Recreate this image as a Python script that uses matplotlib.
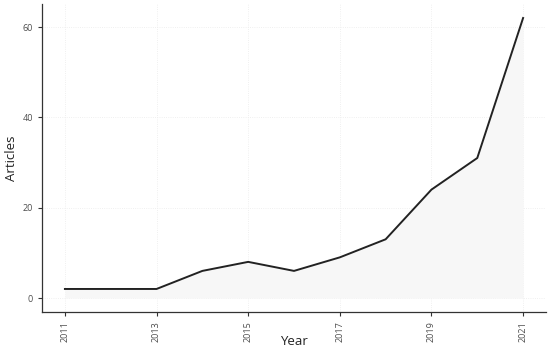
import matplotlib.pyplot as plt

years = [2011, 2012, 2013, 2014, 2015, 2016, 2017, 2018, 2019, 2020, 2021]
articles = [2, 2, 2, 6, 8, 6, 9, 13, 24, 31, 62]
x_ticks = [2011, 2013, 2015, 2017, 2019, 2021]
y_ticks = [0, 20, 40, 60]

plt.rcParams['font.family'] = ['Open Sans', 'DejaVu Sans']

fig = plt.figure(figsize=(5.5, 3.5), dpi=100)
ax = fig.add_axes([42 / 550, 38 / 350, 504 / 550, 308 / 350])

ax.fill_between(years, articles, 0, color='#f7f7f7', linewidth=0)
ax.plot(years, articles, color='#222222', linewidth=1.4)

ax.set_xlim(2010.5, 2021.5)
ax.set_ylim(-3.1, 65.1)
ax.set_xticks(x_ticks)
ax.set_xticklabels([str(t) for t in x_ticks], rotation=90)
ax.set_yticks(y_ticks)

ax.grid(True, color='#ebebeb', linestyle=':', linewidth=0.6)
ax.set_axisbelow(True)

for side in ['top', 'right']:
    ax.spines[side].set_visible(False)
for side in ['left', 'bottom']:
    ax.spines[side].set_color('#333333')
    ax.spines[side].set_linewidth(0.9)

ax.tick_params(axis='both', labelsize=6.5, labelcolor='#4d4d4d', color='#333333',
               length=3, width=0.8)

ax.set_xlabel('Year', fontsize=9.5, color='#222222')
ax.set_ylabel('Articles', fontsize=9.5, color='#222222')
ax.xaxis.set_label_coords(0.5, -0.097)
ax.yaxis.set_label_coords(-0.06, 0.5)
ax.xaxis.label.set_va('center')
ax.yaxis.label.set_va('center')

fig.savefig('out.png', dpi=100)
